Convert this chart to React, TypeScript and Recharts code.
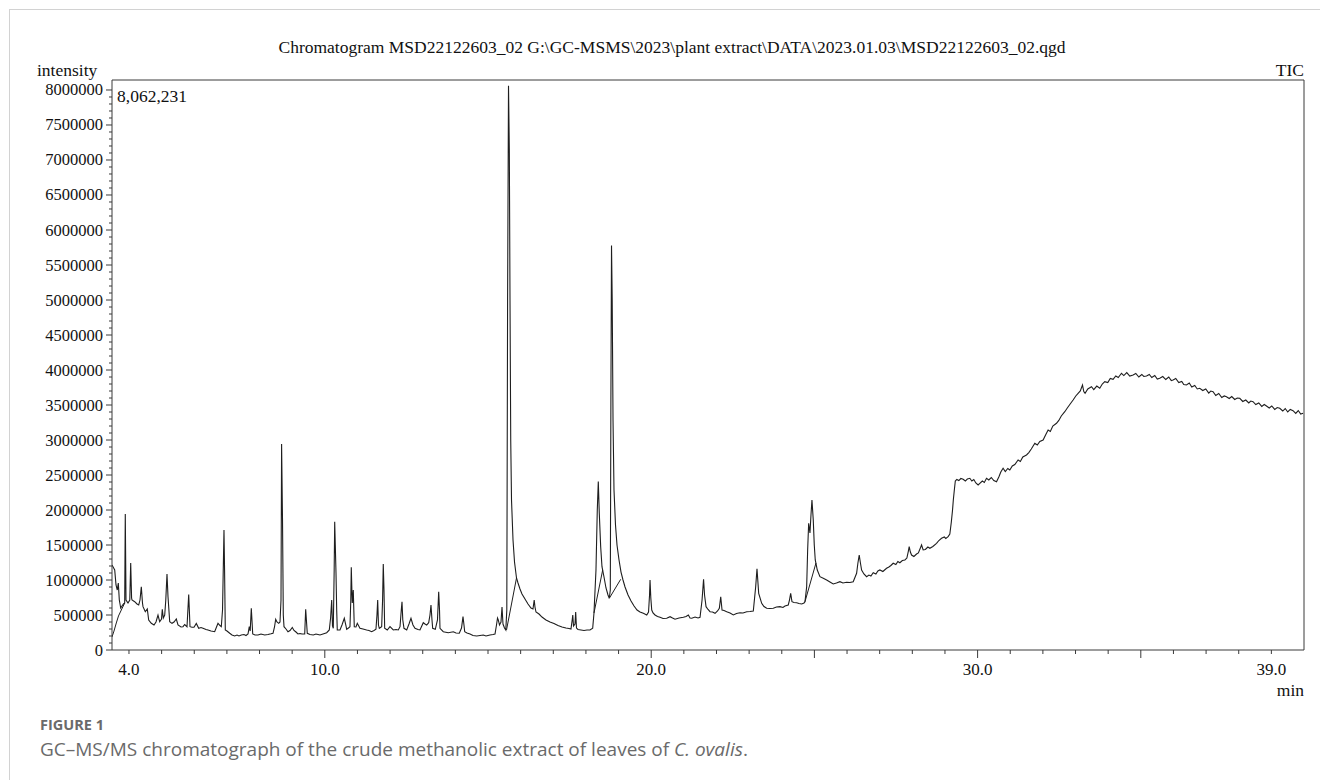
import React from 'react';
import { LineChart, Line, XAxis, YAxis, ReferenceLine } from 'recharts';

// Retention time (min) of the TIC trace
const retentionTime = [
  3.480, 3.563, 3.603, 3.642, 3.673, 3.704, 3.747, 3.786, 3.832, 3.869, 3.887, 3.909, 3.970, 4.025, 4.053, 4.080,
  4.093, 4.175, 4.246, 4.298, 4.338, 4.378, 4.414, 4.430, 4.500, 4.561, 4.604, 4.684, 4.767, 4.828, 4.889, 4.941,
  4.997, 5.021, 5.052, 5.095, 5.128, 5.165, 5.196, 5.248, 5.318, 5.380, 5.450, 5.502, 5.594, 5.655, 5.707, 5.778,
  5.830, 5.870, 5.931, 5.992, 6.063, 6.136, 6.207, 6.268, 6.360, 6.421, 6.513, 6.626, 6.682, 6.728, 6.789, 6.829,
  6.866, 6.911, 6.929, 6.951, 7.003, 7.086, 7.156, 7.239, 7.310, 7.371, 7.441, 7.524, 7.585, 7.647, 7.686, 7.714,
  7.748, 7.791, 7.861, 7.953, 8.045, 8.158, 8.259, 8.351, 8.413, 8.459, 8.495, 8.535, 8.587, 8.627, 8.658, 8.676,
  8.704, 8.728, 8.750, 8.811, 8.872, 8.934, 9.004, 9.056, 9.117, 9.178, 9.240, 9.301, 9.384, 9.414, 9.463, 9.546,
  9.647, 9.730, 9.852, 9.944, 10.058, 10.137, 10.177, 10.211, 10.235, 10.260, 10.287, 10.303, 10.321, 10.343, 10.364, 10.382,
  10.465, 10.526, 10.597, 10.649, 10.670, 10.725, 10.771, 10.796, 10.811, 10.833, 10.842, 10.872, 10.903, 10.955, 10.995, 11.077,
  11.169, 11.282, 11.353, 11.435, 11.506, 11.567, 11.598, 11.620, 11.644, 11.669, 11.742, 11.770, 11.791, 11.813, 11.834, 11.914,
  11.997, 12.098, 12.181, 12.251, 12.304, 12.343, 12.365, 12.389, 12.426, 12.509, 12.579, 12.640, 12.701, 12.763, 12.855, 12.916,
  13.017, 13.069, 13.121, 13.183, 13.222, 13.253, 13.284, 13.305, 13.385, 13.452, 13.489, 13.514, 13.529, 13.630, 13.783, 13.937,
  14.019, 14.120, 14.188, 14.234, 14.264, 14.286, 14.356, 14.448, 14.540, 14.654, 14.755, 14.856, 14.939, 15.061, 15.153, 15.214,
  15.260, 15.291, 15.315, 15.352, 15.398, 15.429, 15.459, 15.505, 15.545, 15.576, 15.600, 15.628, 15.653, 15.674, 15.696, 15.720,
  15.766, 15.812, 15.873, 15.919, 15.980, 16.041, 16.133, 16.225, 16.317, 16.378, 16.415, 16.439, 16.470, 16.562, 16.654, 16.776,
  16.899, 17.021, 17.144, 17.267, 17.389, 17.481, 17.542, 17.579, 17.597, 17.619, 17.665, 17.686, 17.711, 17.757, 17.849, 17.941,
  18.033, 18.125, 18.207, 18.247, 18.308, 18.348, 18.379, 18.409, 18.452, 18.492, 18.554, 18.615, 18.676, 18.716, 18.747, 18.765,
  18.784, 18.805, 18.830, 18.860, 18.906, 18.952, 19.014, 19.075, 19.136, 19.198, 19.290, 19.382, 19.474, 19.566, 19.657, 19.759,
  19.863, 19.918, 19.949, 19.964, 19.988, 20.016, 20.056, 20.117, 20.194, 20.270, 20.362, 20.475, 20.578, 20.654, 20.730, 20.853,
  20.985, 21.068, 21.138, 21.190, 21.242, 21.343, 21.435, 21.496, 21.558, 21.604, 21.634, 21.680, 21.741, 21.803, 21.879, 21.956,
  22.032, 22.087, 22.130, 22.170, 22.231, 22.314, 22.415, 22.516, 22.614, 22.721, 22.813, 22.926, 23.027, 23.128, 23.201, 23.241,
  23.293, 23.385, 23.455, 23.538, 23.639, 23.740, 23.838, 23.945, 24.037, 24.098, 24.199, 24.236, 24.273, 24.313, 24.374, 24.457,
  24.527, 24.610, 24.681, 24.711, 24.763, 24.793, 24.824, 24.864, 24.895, 24.925, 24.965, 24.996, 25.026, 25.088, 25.170, 25.271,
  25.375, 25.476, 25.577, 25.675, 25.782, 25.874, 25.987, 26.088, 26.189, 26.293, 26.333, 26.373, 26.410, 26.446, 26.517, 26.599,
  26.670, 26.731, 26.802, 26.884, 26.945, 27.006, 27.098, 27.211, 27.282, 27.343, 27.414, 27.496, 27.557, 27.618, 27.695, 27.772,
  27.833, 27.879, 27.904, 27.940, 27.977, 28.048, 28.130, 28.185, 28.247, 28.283, 28.332, 28.400, 28.476, 28.537, 28.629, 28.742,
  28.813, 28.895, 28.981, 29.026, 29.097, 29.149, 29.195, 29.232, 29.256, 29.287, 29.317, 29.363, 29.425, 29.486, 29.557, 29.624,
  29.685, 29.762, 29.823, 29.884, 29.946, 30.016, 30.068, 30.145, 30.206, 30.273, 30.343, 30.420, 30.496, 30.579, 30.650, 30.711,
  30.781, 30.848, 30.925, 30.987, 31.063, 31.140, 31.241, 31.309, 31.385, 31.498, 31.569, 31.645, 31.753, 31.829, 31.906, 32.007,
  32.090, 32.160, 32.228, 32.304, 32.417, 32.488, 32.564, 32.671, 32.748, 32.825, 32.926, 33.008, 33.079, 33.146, 33.214, 33.253,
  33.293, 33.376, 33.489, 33.559, 33.651, 33.743, 33.820, 33.896, 33.988, 34.065, 34.151, 34.233, 34.310, 34.408, 34.479, 34.570,
  34.662, 34.764, 34.847, 34.939, 35.031, 35.092, 35.175, 35.260, 35.336, 35.428, 35.505, 35.581, 35.673, 35.765, 35.857, 35.934,
  35.989, 36.071, 36.163, 36.255, 36.316, 36.399, 36.485, 36.561, 36.653, 36.730, 36.806, 36.898, 36.990, 37.082, 37.143, 37.214,
  37.296, 37.388, 37.480, 37.557, 37.624, 37.710, 37.786, 37.878, 37.955, 38.032, 38.124, 38.216, 38.308, 38.369, 38.439, 38.522,
  38.614, 38.706, 38.782, 38.850, 38.935, 39.012, 39.104, 39.180, 39.257, 39.349, 39.425, 39.502, 39.579, 39.664, 39.747, 39.824,
  39.900, 39.971,
];

// TIC intensity at each retention time
const intensity = [
  1215000, 1143000, 929000, 857000, 957000, 714000, 600000, 629000, 657000, 671000, 1943000, 714000, 671000, 714000, 1243000, 743000,
  714000, 690000, 657000, 643000, 714000, 904000, 671000, 619000, 547000, 586000, 429000, 381000, 357000, 400000, 500000, 404000,
  443000, 581000, 457000, 500000, 714000, 1085000, 761000, 404000, 381000, 400000, 443000, 357000, 329000, 333000, 364000, 333000,
  793000, 333000, 324000, 324000, 379000, 310000, 321000, 310000, 293000, 286000, 271000, 261000, 329000, 381000, 350000, 333000,
  571000, 1714000, 1143000, 286000, 271000, 239000, 214000, 200000, 214000, 200000, 214000, 221000, 207000, 229000, 333000, 271000,
  596000, 229000, 214000, 214000, 229000, 214000, 221000, 231000, 239000, 329000, 439000, 400000, 381000, 400000, 714000, 2943000,
  1857000, 500000, 333000, 300000, 261000, 279000, 321000, 279000, 257000, 229000, 236000, 229000, 229000, 581000, 239000, 221000,
  214000, 229000, 214000, 229000, 247000, 286000, 457000, 714000, 343000, 310000, 1143000, 1833000, 1500000, 1096000, 571000, 286000,
  286000, 357000, 453000, 343000, 296000, 314000, 333000, 714000, 1181000, 786000, 671000, 857000, 333000, 329000, 381000, 310000,
  300000, 286000, 279000, 261000, 279000, 296000, 500000, 714000, 357000, 310000, 333000, 714000, 1229000, 857000, 310000, 286000,
  333000, 286000, 293000, 286000, 333000, 571000, 690000, 429000, 310000, 286000, 371000, 453000, 357000, 310000, 293000, 286000,
  390000, 371000, 357000, 390000, 500000, 643000, 429000, 310000, 296000, 429000, 833000, 571000, 310000, 261000, 247000, 261000,
  243000, 239000, 314000, 476000, 357000, 261000, 243000, 229000, 207000, 200000, 207000, 214000, 200000, 214000, 221000, 229000,
  357000, 457000, 429000, 357000, 400000, 614000, 371000, 314000, 286000, 571000, 5000000, 8062231, 7143000, 5000000, 3000000, 2143000,
  1571000, 1257000, 1029000, 957000, 871000, 800000, 729000, 657000, 600000, 586000, 714000, 614000, 543000, 514000, 471000, 429000,
  400000, 379000, 350000, 329000, 314000, 307000, 300000, 429000, 500000, 343000, 371000, 543000, 314000, 293000, 286000, 279000,
  286000, 286000, 310000, 529000, 1143000, 2000000, 2407000, 1957000, 1476000, 1190000, 1043000, 886000, 786000, 739000, 857000, 3571000,
  5780000, 5000000, 3286000, 2286000, 1786000, 1500000, 1286000, 1114000, 1000000, 900000, 786000, 700000, 629000, 571000, 543000, 524000,
  500000, 543000, 786000, 1000000, 743000, 571000, 529000, 500000, 479000, 467000, 450000, 453000, 476000, 457000, 439000, 457000,
  467000, 479000, 500000, 457000, 453000, 471000, 457000, 467000, 714000, 1010000, 786000, 619000, 579000, 547000, 543000, 524000,
  557000, 596000, 761000, 571000, 564000, 547000, 529000, 500000, 521000, 533000, 529000, 547000, 550000, 557000, 904000, 1161000,
  810000, 667000, 621000, 596000, 593000, 596000, 614000, 619000, 607000, 629000, 643000, 714000, 810000, 690000, 679000, 676000,
  664000, 657000, 671000, 690000, 904000, 1429000, 1810000, 1671000, 1929000, 2143000, 1857000, 1500000, 1286000, 1143000, 1047000, 1024000,
  1000000, 971000, 943000, 957000, 976000, 957000, 967000, 964000, 976000, 1096000, 1243000, 1357000, 1243000, 1143000, 1086000, 1047000,
  1071000, 1057000, 1104000, 1086000, 1129000, 1143000, 1121000, 1167000, 1186000, 1207000, 1239000, 1221000, 1264000, 1247000, 1279000, 1286000,
  1314000, 1414000, 1476000, 1400000, 1357000, 1336000, 1371000, 1386000, 1457000, 1500000, 1429000, 1436000, 1471000, 1453000, 1479000, 1524000,
  1564000, 1596000, 1614000, 1593000, 1619000, 1657000, 1829000, 2000000, 2143000, 2286000, 2414000, 2436000, 2421000, 2450000, 2439000, 2414000,
  2443000, 2453000, 2414000, 2436000, 2386000, 2357000, 2381000, 2414000, 2393000, 2453000, 2429000, 2464000, 2421000, 2404000, 2471000, 2543000,
  2596000, 2550000, 2593000, 2571000, 2629000, 2650000, 2714000, 2693000, 2757000, 2786000, 2821000, 2871000, 2953000, 2929000, 2979000, 3000000,
  3079000, 3143000, 3121000, 3200000, 3239000, 3279000, 3343000, 3404000, 3457000, 3507000, 3571000, 3629000, 3667000, 3700000, 3786000, 3693000,
  3667000, 3729000, 3761000, 3721000, 3771000, 3739000, 3800000, 3833000, 3821000, 3879000, 3867000, 3914000, 3893000, 3953000, 3921000, 3964000,
  3914000, 3929000, 3950000, 3900000, 3936000, 3907000, 3914000, 3936000, 3893000, 3921000, 3871000, 3881000, 3907000, 3864000, 3900000, 3850000,
  3857000, 3879000, 3821000, 3836000, 3793000, 3786000, 3814000, 3757000, 3779000, 3729000, 3739000, 3707000, 3729000, 3671000, 3700000, 3690000,
  3636000, 3664000, 3607000, 3629000, 3619000, 3593000, 3621000, 3579000, 3600000, 3596000, 3550000, 3571000, 3529000, 3557000, 3547000, 3507000,
  3529000, 3479000, 3507000, 3486000, 3457000, 3486000, 3436000, 3464000, 3453000, 3414000, 3450000, 3400000, 3436000, 3419000, 3379000, 3421000,
  3371000, 3381000,
];

// Overlapping sub-traces the instrument software draws under some peaks
const solventRiseTime = [3.480, 3.541, 3.612, 3.679, 3.765, 3.869];
const solventRiseValue = [186000, 271000, 386000, 486000, 571000, 671000];
const shoulder156Time = [15.567, 15.873];
const shoulder156Value = [286000, 1029000];
const shoulder184Time = [18.247, 18.513];
const shoulder184Value = [529000, 1143000];
const shoulder188Time = [18.716, 19.065];
const shoulder188Value = [739000, 1010000];
const shoulder249Time = [24.711, 25.048];
const shoulder249Value = [690000, 1243000];

// Axes
const xTicks = [4, 5, 6, 7, 8, 9, 10, 11, 12, 13, 14, 15, 16, 17, 18, 19, 20, 21, 22, 23, 24, 25, 26, 27, 28, 29, 30, 31, 32, 33, 34, 35, 36, 37, 38, 39];
const xTickLabels = [4, 10, 20, 30, 39];
const xLongTicks = [10, 20, 25, 30, 35];
const yTickLabels = [0, 500000, 1000000, 1500000, 2000000, 2500000, 3000000, 3500000, 4000000, 4500000, 5000000, 5500000, 6000000, 6500000, 7000000, 7500000, 8000000];
const yMinorStep = 100000;
const xDomain: [number, number] = [3.48, 40.0];
const yDomain: [number, number] = [0, 8142857];
const peakLabel = '8,062,231';

const traceData = retentionTime.map((t, i) => ({ t, v: intensity[i] }));
const toSeries = (ts: number[], vs: number[]) => ts.map((t, i) => ({ t, v: vs[i] }));
const overlays = [
  toSeries(solventRiseTime, solventRiseValue),
  toSeries(shoulder156Time, shoulder156Value),
  toSeries(shoulder184Time, shoulder184Value),
  toSeries(shoulder188Time, shoulder188Value),
  toSeries(shoulder249Time, shoulder249Value),
];

const yTicksAll: number[] = [];
for (let v = 0; v <= yTickLabels[yTickLabels.length - 1]; v += yMinorStep) yTicksAll.push(v);

const SERIF = '"Liberation Serif", "Times New Roman", serif';
const SANS = '"Open Sans", "Noto Sans", sans-serif';
const AXIS = '#3a3a3a';
const TRACE = '#1e1e1e';

const XTick = (props: any) => {
  const { x, y, payload } = props;
  const v = payload.value as number;
  const long = xLongTicks.includes(v);
  const labeled = xTickLabels.includes(v);
  return (
    <g>
      <line x1={x} x2={x} y1={y} y2={y + (long ? 8 : 4)} stroke={AXIS} strokeWidth={1} />
      {labeled && (
        <text x={x} y={y + 25} textAnchor="middle" fontFamily={SERIF} fontSize={17} fill="#111">
          {v.toFixed(1)}
        </text>
      )}
    </g>
  );
};

const YTick = (props: any) => {
  const { x, y, payload } = props;
  const v = payload.value as number;
  const labeled = yTickLabels.includes(v);
  return (
    <g>
      <line x1={x - (labeled ? 6 : 3)} x2={x} y1={y} y2={y} stroke={AXIS} strokeWidth={1} />
      {labeled && (
        <text x={x - 9} y={y + 5.5} textAnchor="end" fontFamily={SERIF} fontSize={16.5} fill="#111">
          {String(v)}
        </text>
      )}
    </g>
  );
};

const abs = (extra: React.CSSProperties): React.CSSProperties => ({
  position: 'absolute',
  whiteSpace: 'nowrap',
  fontFamily: SERIF,
  fontSize: 17.5,
  lineHeight: '20px',
  color: '#111',
  ...extra,
});

export default function App() {
  return (
    <div style={{ position: 'absolute', left: 0, top: 0, width: 1320, height: 780, overflow: 'hidden', background: '#fff' }}>
      <div style={{ position: 'absolute', left: 9, top: 9, width: 1311, height: 771, borderTop: '1.5px solid #d2d2d2', borderLeft: '1.5px solid #d2d2d2' }} />
      <LineChart width={1320} height={780} data={traceData} margin={{ top: 80, right: 16, bottom: 100, left: 12 }}>
        <XAxis
          type="number"
          dataKey="t"
          domain={xDomain}
          allowDataOverflow
          ticks={xTicks}
          interval={0}
          tick={<XTick />}
          tickLine={false}
          tickSize={0}
          tickMargin={0}
          height={30}
          axisLine={{ stroke: AXIS, strokeWidth: 1 }}
        />
        <YAxis
          type="number"
          domain={yDomain}
          allowDataOverflow
          ticks={yTicksAll}
          interval={0}
          tick={<YTick />}
          tickLine={false}
          tickSize={0}
          tickMargin={0}
          width={100}
          axisLine={{ stroke: AXIS, strokeWidth: 1 }}
        />
        <ReferenceLine y={yDomain[1]} stroke={AXIS} strokeWidth={1} />
        <ReferenceLine x={xDomain[1]} stroke={AXIS} strokeWidth={1} />
        {overlays.map((d, i) => (
          <Line
            key={'ov' + i}
            data={d}
            dataKey="v"
            type="linear"
            stroke={TRACE}
            strokeWidth={1}
            dot={false}
            activeDot={false}
            isAnimationActive={false}
          />
        ))}
        <Line dataKey="v" type="linear" stroke={TRACE} strokeWidth={1.1} dot={false} activeDot={false} isAnimationActive={false} />
      </LineChart>

      <div style={abs({ left: 672, top: 37, transform: 'translateX(-50%)' })}>
        Chromatogram MSD22122603_02 G:\GC-MSMS\2023\plant extract\DATA\2023.01.03\MSD22122603_02.qgd
      </div>
      <div style={abs({ left: 37, top: 60 })}>intensity</div>
      <div style={abs({ right: 16, top: 60 })}>TIC</div>
      <div style={abs({ left: 117, top: 86 })}>{peakLabel}</div>
      <div style={abs({ right: 16, top: 680 })}>min</div>

      <div style={abs({ left: 40, top: 717, fontFamily: SANS, fontSize: 14.5, fontWeight: 700, color: '#6a6a6a', lineHeight: '16px' })}>FIGURE 1</div>
      <div style={abs({ left: 40, top: 739, fontFamily: SANS, fontSize: 19, color: '#6a6a6a', lineHeight: '20px' })}>
        GC–MS/MS chromatograph of the crude methanolic extract of leaves of <i>C. ovalis</i>.
      </div>
    </div>
  );
}
